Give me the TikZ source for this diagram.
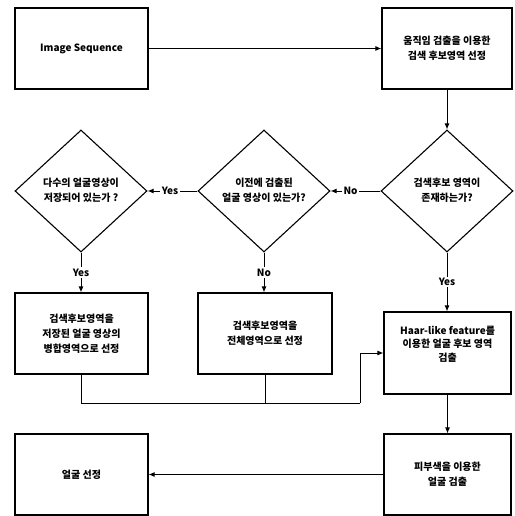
\documentclass[tikz,border=0pt]{standalone}
\usepackage{fontspec}
\setmainfont{Noto Sans CJK KR}
\usetikzlibrary{shapes.geometric,arrows.meta}
\begin{document}
\begin{tikzpicture}[x=1pt,y=-1pt,
  every node/.style={font=\bfseries\fontsize{10}{15}\selectfont},
  box/.style={draw,line width=1.1pt,minimum width=133pt,minimum height=81pt,align=center,inner sep=0pt},
  dia/.style={draw,diamond,line width=1.1pt,minimum width=132pt,minimum height=122pt,inner sep=0pt},
  txt/.style={align=center,inner sep=0pt},
  conn/.style={line width=1pt},
  arr/.style={conn,-{Latex[length=6pt,width=5pt]}},
  lbl/.style={fill=white,inner sep=1.5pt}]
\useasboundingbox[fill=white] (0,0) rectangle (514,516);

% boxes
\node[box] (A) at (81.5,48.5) {Image Sequence};
\node[box,minimum width=130pt] (B) at (447,48.5) {움직임 검출을 이용한\\검색 후보영역 선정};
\node[box] (C1) at (81.5,333.5) {검색후보영역을\\저장된 얼굴 영상의\\병합영역으로 선정};
\node[box,minimum width=134pt] (C2) at (265,333.5) {검색후보영역을\\전체영역으로 선정};
\node[box,minimum width=127pt,minimum height=82pt] (H) at (447.5,353) {};
\node[txt,font=\bfseries\fontsize{10}{13.5}\selectfont] (Ht) at (447.5,344) {Haar-like feature를\\이용한 얼굴 후보 영역\\검출};
\node[box,minimum width=127pt] (S) at (447.5,474.5) {피부색을 이용한\\얼굴 검출};
\node[box] (F) at (81.5,474.5) {얼굴 선정};

% diamonds
\node[dia] (D1) at (447,191) {};
\node[txt] (D1t) at (447,190) {검색후보 영역이\\존재하는가?};
\node[dia] (D2) at (264,191) {};
\node[txt] (D2t) at (264,190) {이전에 검출된\\얼굴 영상이 있는가?};
\node[dia] (D3) at (81,191) {};
\node[txt] (D3t) at (81,190) {다수의 얼굴영상이\\저장되어 있는가 ?};

% connectors
\draw[arr] (A.east) -- (B.west);
\draw[arr] (B.south) -- (D1.north);
\draw[arr] (D1.west) -- node[lbl,pos=0.6] (lno1) {No} (D2.east);
\draw[arr] (D2.west) -- node[lbl,pos=0.55] (lyes1) {Yes} (D3.east);
\draw[arr] (D3.south) -- node[lbl,pos=0.5] (lyes2) {Yes} (D3.south |- C1.north);
\draw[arr] (D2.south) -- node[lbl,pos=0.5] (lno2) {No} (D2.south |- C2.north);
\draw[arr] (D1.south) -- node[lbl,pos=0.5] (lyes3) {Yes} (D1.south |- H.north);

\coordinate (m1) at (81.5,403);
\coordinate (m2) at (360,403);
\draw[conn] (C1.south) -- (m1) -- (m2);
\draw[conn] (C2.south) -- (C2.south |- m1);
\draw[arr] (m2) |- (H.west);
\draw[arr] (H.south) -- (S.north);
\draw[arr] (S.west) -- (F.east);
\end{tikzpicture}
\end{document}
